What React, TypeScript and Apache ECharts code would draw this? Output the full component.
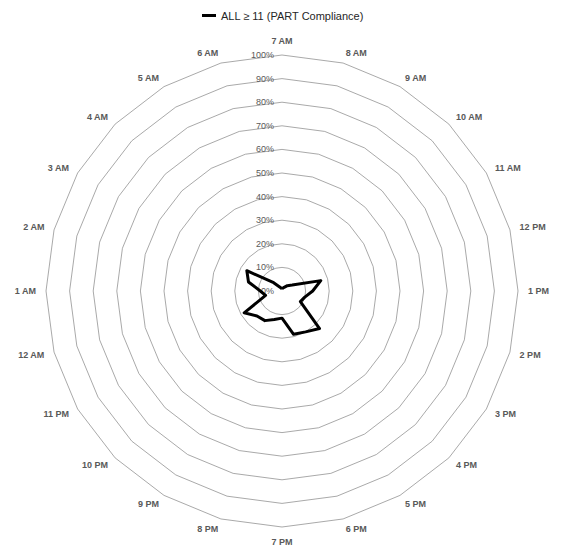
import React, { useEffect, useRef } from "react";
import * as echarts from "echarts";

const hours = [
  "7 AM", "8 AM", "9 AM", "10 AM", "11 AM", "12 PM", "1 PM", "2 PM", "3 PM", "4 PM", "5 PM", "6 PM",
  "7 PM", "8 PM", "9 PM", "10 PM", "11 PM", "12 AM", "1 AM", "2 AM", "3 AM", "4 AM", "5 AM", "6 AM",
];
const seriesName = "ALL ≥ 11 (PART Compliance)";
const compliance = [
  1, 1.2, 1.8, 3.2, 5, 17, 13, 10, 9, 22.5, 20, 19,
  11.5, 12.5, 14.5, 15, 18.5, 7.2, 9.2, 14.7, 17.2, 5, 2, 1.2,
];
const ringMax = 100;
const ringStep = 10;

export default function App() {
  const ref = useRef<HTMLDivElement>(null);
  useEffect(() => {
    const chart = echarts.init(ref.current!, undefined, { renderer: "svg" });
    // ECharts radar runs counter-clockwise; reorder so the hours run clockwise.
    const order = [0, ...hours.map((_, i) => hours.length - 1 - i).slice(0, hours.length - 1)];
    const indicator = order.map((idx, i) => {
      const ind: any = { name: hours[idx], min: 0, max: ringMax };
      if (i === 0) {
        ind.axisLabel = {
          show: true,
          showMinLabel: true,
          color: "#595959",
          fontSize: 9,
          fontFamily: "Liberation Sans",
          formatter: (v: number) => `${v}%`,
        };
      }
      return ind;
    });
    const values = order.map((idx) => compliance[idx]);
    chart.setOption({
      animation: false,
      backgroundColor: "#ffffff",
      legend: {
        top: 5,
        left: "center",
        data: [seriesName],
        icon: "rect",
        itemWidth: 14,
        itemHeight: 3,
        itemGap: 6,
        textStyle: { color: "#262626", fontSize: 11, fontFamily: "Liberation Sans" },
      },
      radar: {
        center: [282, 291],
        radius: 236,
        startAngle: 90,
        shape: "polygon",
        splitNumber: ringMax / ringStep,
        indicator,
        axisName: {
          color: "#595959",
          fontSize: 9,
          fontWeight: "bold",
          fontFamily: "Liberation Sans",
        },
        nameGap: 10,
        axisLine: { show: false },
        axisTick: { show: false },
        axisLabel: { show: false },
        splitArea: { show: false },
        splitLine: { lineStyle: { color: "#8c8c8c", width: 0.75 } },
      },
      series: [
        {
          type: "radar",
          name: seriesName,
          symbol: "none",
          lineStyle: { color: "#000000", width: 3 },
          itemStyle: { color: "#000000" },
          data: [{ name: seriesName, value: values }],
        },
      ],
    });
    return () => chart.dispose();
  }, []);
  return (
    <div
      ref={ref}
      style={{ position: "fixed", left: 0, top: 0, width: 566, height: 551 }}
    />
  );
}
